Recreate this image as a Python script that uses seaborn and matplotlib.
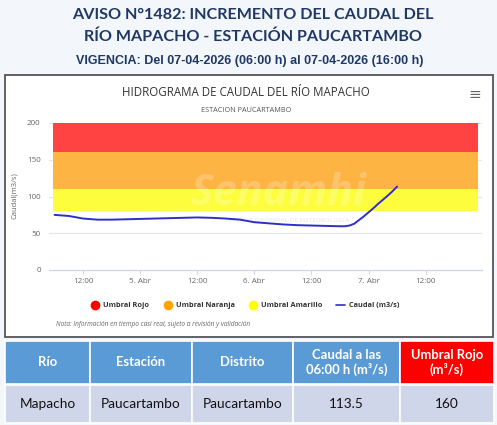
import pandas as pd
import numpy as np
import matplotlib.pyplot as plt
import matplotlib.dates as mdates
from matplotlib.patches import Rectangle
from matplotlib.lines import Line2D
import seaborn as sns

# datos
fechas = ['2026-04-04 06:00', '2026-04-04 09:00', '2026-04-04 12:00', '2026-04-04 15:00',
          '2026-04-04 18:00', '2026-04-04 21:00', '2026-04-05 00:00', '2026-04-05 03:00',
          '2026-04-05 06:00', '2026-04-05 09:00', '2026-04-05 12:00', '2026-04-05 15:00',
          '2026-04-05 18:00', '2026-04-05 21:00', '2026-04-06 00:00', '2026-04-06 03:00',
          '2026-04-06 06:00', '2026-04-06 09:00', '2026-04-06 12:00', '2026-04-06 15:00',
          '2026-04-06 18:00', '2026-04-06 19:00', '2026-04-06 20:00', '2026-04-06 21:00',
          '2026-04-06 22:00', '2026-04-06 23:00', '2026-04-07 00:00', '2026-04-07 01:00',
          '2026-04-07 02:00', '2026-04-07 03:00', '2026-04-07 04:00', '2026-04-07 05:00',
          '2026-04-07 06:00']
caudal = [75, 73.5, 70, 68.5, 68.5, 69, 69.5, 70, 70.5, 71, 71.5, 71, 70, 68.5, 65, 63.5,
          62, 61, 60.5, 60, 59.5, 59.5, 60.5, 63, 68, 73, 78.5, 84, 90, 95.5, 101, 107, 113.5]

umbrales = [80, 110, 160, 200]   # amarillo, naranja, rojo, tope
colores_banda = ['#fdfd3e', '#fdb443', '#ff4242']
nombres_umbral = ['Umbral Rojo', 'Umbral Naranja', 'Umbral Amarillo']
colores_umbral = ['#ff0000', '#ffa500', '#ffff00']

titulo = ['AVISO N°1482: INCREMENTO DEL CAUDAL DEL', 'RÍO MAPACHO - ESTACIÓN PAUCARTAMBO']
vigencia = 'VIGENCIA: Del 07-04-2026 (06:00 h) al 07-04-2026 (16:00 h)'

cabecera = ['Río', 'Estación', 'Distrito', 'Caudal a las\n06:00 h (m³/s)', 'Umbral Rojo\n(m³/s)']
fila = ['Mapacho', 'Paucartambo', 'Paucartambo', '113.5', '160']

df = pd.DataFrame({'fecha': pd.to_datetime(fechas), 'caudal': caudal})

W, H = 497, 425
def fx(x): return x / W
def fy(y): return 1 - y / H

sns.set_theme(style='white')
plt.rcParams['font.family'] = ['Open Sans', 'DejaVu Sans']

fig = plt.figure(figsize=(W / 100, H / 100), dpi=100, facecolor='#f3f6fb')

# titulos
navy = '#1f3864'
fig.text(fx(253), fy(15), titulo[0], ha='center', va='center', fontsize=11.6,
         fontweight='bold', color=navy, family=['Lato', 'DejaVu Sans'])
fig.text(fx(253), fy(37), titulo[1], ha='center', va='center', fontsize=11.6,
         fontweight='bold', color=navy, family=['Lato', 'DejaVu Sans'])
fig.text(fx(250), fy(61), vigencia, ha='center', va='center', fontsize=9.0,
         fontweight='bold', color=navy, family=['Liberation Sans', 'DejaVu Sans'])

# recuadro del grafico
fig.add_artist(Rectangle((fx(5), fy(337)), (493 - 5) / W, (337 - 75) / H,
                         transform=fig.transFigure, facecolor='white', edgecolor='#555555',
                         lw=1.3, zorder=-1))

fig.text(fx(246), fy(93), 'HIDROGRAMA DE CAUDAL DEL RÍO MAPACHO', ha='center', va='center',
         fontsize=8.3, color='#333333')
fig.text(fx(246), fy(110), 'ESTACION PAUCARTAMBO', ha='center', va='center',
         fontsize=5.2, color='#555555')
fig.text(fx(475), fy(95), '≡', ha='center', va='center', fontsize=11, color='#666666',
         family='DejaVu Sans')

ax = fig.add_axes([fx(49), fy(270), (482 - 49) / W, (270 - 123) / H])
ax.set_facecolor('white')

for i in range(3):
    ax.axhspan(umbrales[i], umbrales[i + 1], xmin=0.009, xmax=0.991,
               color=colores_banda[i], lw=0, zorder=1)

sns.lineplot(data=df, x='fecha', y='caudal', ax=ax, color='#2f2fc8', lw=1.4, zorder=3)

# marca de agua
ax.text(0.53, 0.52, 'Senamhi', transform=ax.transAxes, ha='center', va='center',
        fontsize=31, fontweight='bold', style='italic', color='white', alpha=0.22, zorder=2)
ax.text(0.55, 0.335, 'SERVICIO NACIONAL DE METEOROLOGÍA', transform=ax.transAxes,
        ha='center', va='center', fontsize=4.5, fontweight='bold', color='#e2e2e2', alpha=0.6, zorder=2)

ax.set_ylim(0, 200)
ax.set_yticks([0, 50, 100, 150, 200])
ax.set_xlim(pd.Timestamp('2026-04-04 04:50'), pd.Timestamp('2026-04-07 23:50'))
ax.xaxis.set_major_locator(mdates.HourLocator(byhour=[0, 12]))

def fmt(v, pos):
    d = mdates.num2date(v)
    return '12:00' if d.hour == 12 else f'{d.day}. Abr'
ax.xaxis.set_major_formatter(plt.FuncFormatter(fmt))

ax.grid(axis='y', color='#e6e6e6', lw=0.8)
ax.set_axisbelow(True)
for s in ['top', 'right', 'left']:
    ax.spines[s].set_visible(False)
ax.spines['bottom'].set_color('#ccd6eb')
ax.spines['bottom'].set_linewidth(0.9)
ax.tick_params(axis='y', length=0, pad=6, labelsize=5.8, labelcolor='#666666')
ax.tick_params(axis='x', length=3, width=0.8, color='#ccd6eb', pad=2.5, labelsize=5.8,
               labelcolor='#666666', bottom=True)
ax.set_xlabel('')
ax.set_ylabel('')
fig.text(fx(15), fy(196), 'Caudal(m3/s)', rotation=90, ha='center', va='center',
         fontsize=5.5, color='#666666')

# leyenda
handles = [Line2D([], [], marker='o', ls='', color=c, markersize=6) for c in colores_umbral]
handles.append(Line2D([], [], color='#2f2fc8', lw=1.2))
fig.legend(handles, nombres_umbral + ['Caudal (m3/s)'], loc='center',
           bbox_to_anchor=(fx(245), fy(305.5)), ncol=4, frameon=False,
           prop={'size': 5.3, 'weight': 'bold'}, labelcolor='#333333',
           handlelength=1.2, handletextpad=0.5, columnspacing=1.9)

fig.text(fx(56), fy(325), 'Nota: Información en tiempo casi real, sujeto a revisión y validación',
         ha='left', va='center', fontsize=4.7, style='italic', color='#666666')

# tabla
cols = [5, 90, 192, 293, 400, 494]
for i in range(5):
    x0, x1 = cols[i], cols[i + 1]
    color_cab = '#ff0000' if i == 4 else '#5b9bd5'
    fig.add_artist(Rectangle((fx(x0), fy(384)), (x1 - x0) / W, (384 - 341) / H,
                             transform=fig.transFigure, facecolor=color_cab,
                             edgecolor='white', lw=1.2))
    fig.add_artist(Rectangle((fx(x0), fy(423)), (x1 - x0) / W, (423 - 385) / H,
                             transform=fig.transFigure, facecolor='#cfd6ea',
                             edgecolor='white', lw=1.2))
    fig.text(fx((x0 + x1) / 2), fy(362.5), cabecera[i], ha='center', va='center',
             fontsize=9.4, fontweight='bold', color='white', linespacing=1.15,
             family=['Lato', 'DejaVu Sans'])
    fig.text(fx((x0 + x1) / 2), fy(404), fila[i], ha='center', va='center',
             fontsize=9.8, color='#111111', family=['Lato', 'DejaVu Sans'])

fig.savefig('out.png', dpi=100, facecolor=fig.get_facecolor())
